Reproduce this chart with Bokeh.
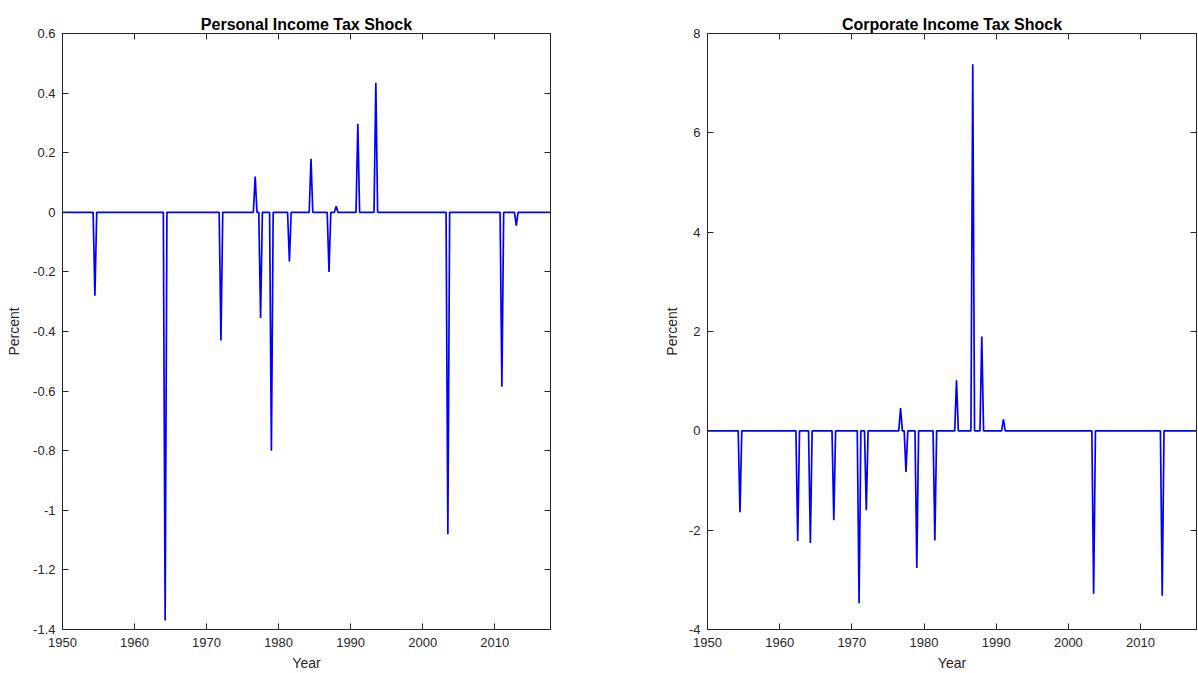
from bokeh.plotting import figure
from bokeh.layouts import row
from bokeh.models import (LinearAxis, FixedTicker, CustomJSTickFormatter, Range1d,
                          CustomLabelingPolicy)
from bokeh.embed import file_html
from bokeh.resources import INLINE

# ---- data (quarterly; quarters without a shock are zero) ----
start_year = 1950.0
end_year = 2017.75

personal_dates = [1954.5, 1964.25, 1972.0, 1976.75, 1977.5, 1979.0, 1981.5, 1984.5,
                  1987.0, 1988.0, 1991.0, 1993.5, 2003.5, 2011.0, 2013.0]
personal_vals = [-0.28, -1.37, -0.43, 0.12, -0.355, -0.80, -0.165, 0.18,
                 -0.20, 0.02, 0.297, 0.435, -1.08, -0.585, -0.045]

corporate_dates = [1954.5, 1962.5, 1964.25, 1967.5, 1971.0, 1972.0, 1976.75, 1977.5,
                   1979.0, 1981.5, 1984.5, 1986.75, 1988.0, 1991.0, 2003.5, 2013.0]
corporate_vals = [-1.64, -2.22, -2.26, -1.80, -3.47, -1.60, 0.46, -0.83,
                  -2.76, -2.21, 1.02, 7.38, 1.90, 0.23, -3.28, -3.32]

x_ticks = [1950, 1960, 1970, 1980, 1990, 2000, 2010]
personal_y_ticks = [-1.4, -1.2, -1.0, -0.8, -0.6, -0.4, -0.2, 0, 0.2, 0.4, 0.6]
corporate_y_ticks = [-4, -2, 0, 2, 4, 6, 8]


def quarterly(dates, vals):
    n = int(round((end_year - start_year) * 4)) + 1
    t = [start_year + i / 4 for i in range(n)]
    y = [0.0] * n
    for d, v in zip(dates, vals):
        y[int(round((d - start_year) * 4))] = v
    return t, y


FONT = "Liberation Sans"
AX = "#262626"
fmt = CustomJSTickFormatter(code="return (Math.round(tick*10)/10).toString();")


def style_axis(ax, labels=True):
    ax.axis_line_color = AX
    ax.major_tick_line_color = AX
    ax.major_tick_in = 6
    ax.major_tick_out = 0
    ax.minor_tick_line_color = None
    ax.major_label_text_font = FONT
    ax.major_label_text_color = AX
    ax.major_label_text_font_size = "13px" if labels else "0px"
    ax.major_label_standoff = 8 if labels else 0
    ax.axis_label_text_font = FONT
    ax.axis_label_text_font_size = "14px"
    ax.axis_label_text_font_style = "normal"
    ax.axis_label_text_color = AX
    if not labels:
        ax.major_label_policy = CustomLabelingPolicy(code="return new Set();")


def make(title, dates, vals, y0, y1, yticks, w, bl, br, ylab_standoff):
    p = figure(width=w, height=673, output_backend="svg", toolbar_location=None,
               x_range=Range1d(start_year, end_year), y_range=Range1d(y0, y1),
               min_border_left=bl, min_border_right=br, min_border_top=33,
               min_border_bottom=43, title=title)
    t, y = quarterly(dates, vals)
    p.line(t, y, line_color="#0000FF", line_width=1.7)
    p.grid.visible = False
    p.outline_line_color = AX
    p.background_fill_color = "white"
    p.border_fill_color = "white"
    p.title.text_font = FONT
    p.title.text_font_size = "16px"
    p.title.text_font_style = "bold"
    p.title.text_color = "#000000"
    p.title.align = "center"
    p.title.standoff = 2

    p.xaxis.ticker = FixedTicker(ticks=x_ticks)
    p.yaxis.ticker = FixedTicker(ticks=yticks)
    p.yaxis.formatter = fmt
    p.xaxis.axis_label = "Year"
    p.yaxis.axis_label = "Percent"
    for a in p.xaxis + p.yaxis:
        style_axis(a)
    p.yaxis.major_label_standoff = 7
    p.xaxis.axis_label_standoff = 5
    p.yaxis.axis_label_standoff = ylab_standoff

    top = LinearAxis(ticker=FixedTicker(ticks=x_ticks))
    style_axis(top, labels=False)
    p.add_layout(top, "above")
    right = LinearAxis(ticker=FixedTicker(ticks=yticks))
    style_axis(right, labels=False)
    p.add_layout(right, "right")
    return p


p1 = make("Personal Income Tax Shock", personal_dates, personal_vals, -1.4, 0.6,
          personal_y_ticks, 610, 62, 60, 8)
p2 = make("Corporate Income Tax Shock", corporate_dates, corporate_vals, -4, 8,
          corporate_y_ticks, 588, 97, 2, 6)

p = row(p1, p2)
open("out.html", "w").write(file_html(p, INLINE))
